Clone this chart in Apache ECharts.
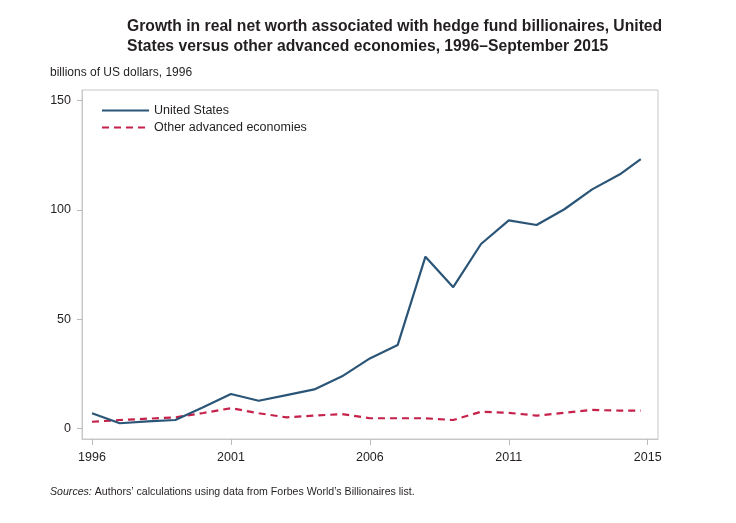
<!DOCTYPE html>
<html>
<head>
<meta charset="utf-8">
<script src="https://cdn.jsdelivr.net/npm/echarts@6/dist/echarts.min.js"></script>
<style>html,body{margin:0;padding:0;background:#fff}#c{width:736px;height:523px}</style>
</head>
<body>
<div id="c"></div>
<script>
const years = [1996,1997,1998,1999,2000,2001,2002,2003,2004,2005,2006,2007,2008,2009,2010,2011,2012,2013,2014,2015,2015.75];
const usValues = [6.9,2.3,3.2,3.8,9.6,15.7,12.6,15.2,17.8,23.8,32.0,38.1,78.6,64.6,84.4,95.2,93.1,100.3,109.4,116.3,123.3];
const otherValues = [3.0,3.8,4.4,5.0,7.0,9.2,6.9,5.0,5.8,6.5,4.6,4.6,4.6,3.8,7.6,7.1,5.8,7.1,8.4,8.1,8.1];
const xTickValues = [1996,2001,2006,2011,2016];
const xTickLabels = ['1996','2001','2006','2011','2015'];
const yTickValues = [0,50,100,150];
const seriesNames = ['United States','Other advanced economies'];
const titleText = 'Growth in real net worth associated with hedge fund billionaires, United\nStates versus other advanced economies, 1996–September 2015';
const yUnitText = 'billions of US dollars, 1996';
const sourceText = 'Authors’ calculations using data from Forbes World’s Billionaires list.';

const FONT = '"Liberation Sans", Arial, sans-serif';
const chart = echarts.init(document.getElementById('c'), null, {renderer:'canvas'});
chart.setOption({
  backgroundColor:'#fff',
  animation:false,
  title:[
    {text:titleText, left:122, top:12, textStyle:{fontFamily:FONT, fontWeight:'bold', fontSize:15.7, lineHeight:19.5, color:'#231f20'}},
    {text:yUnitText, left:45, top:62, textStyle:{fontFamily:FONT, fontWeight:'normal', fontSize:12, color:'#231f20'}},
    {text:'{i|Sources:} ' + sourceText, left:45, top:482, textStyle:{fontFamily:FONT, fontWeight:'normal', fontSize:10.6, color:'#231f20', rich:{i:{fontFamily:FONT, fontStyle:'italic', fontSize:10.6, color:'#231f20'}}}}
  ],
  legend:{
    left:96, top:99, orient:'vertical', itemWidth:47, itemHeight:14, itemGap:4,
    itemStyle:{opacity:0},
    textStyle:{fontFamily:FONT, fontSize:12.5, color:'#231f20'},
    data:seriesNames
  },
  grid:{left:82, right:78, top:90, bottom:84, show:true, borderColor:'#c8c8c8', borderWidth:1},
  xAxis:{
    type:'value', min:1995.64, max:2016.37,
    axisLine:{show:true, onZero:false, lineStyle:{color:'#c8c8c8'}},
    axisTick:{show:true, length:6, lineStyle:{color:'#bbb'}, customValues:xTickValues},
    axisLabel:{customValues:xTickValues, fontFamily:FONT, fontSize:12.5, color:'#231f20', margin:12,
      formatter:function(v){const i=xTickValues.indexOf(Math.round(v)); return i>=0?xTickLabels[i]:'';}},
    splitLine:{show:false}
  },
  yAxis:{
    type:'value', min:-4.9, max:154.9,
    axisLine:{show:true, onZero:false, lineStyle:{color:'#c8c8c8'}},
    axisTick:{show:true, length:5, lineStyle:{color:'#bbb'}, customValues:yTickValues},
    axisLabel:{customValues:yTickValues, fontFamily:FONT, fontSize:12.5, color:'#231f20', margin:11},
    splitLine:{show:false}
  },
  series:[
    {name:seriesNames[0], type:'line', symbol:'none', showSymbol:false,
     data:years.map((y,i)=>[y,usValues[i]]),
     lineStyle:{color:'#2b5577', width:2.2}, itemStyle:{color:'#2b5577'}, z:3},
    {name:seriesNames[1], type:'line', symbol:'none', showSymbol:false,
     data:years.map((y,i)=>[y,otherValues[i]]),
     lineStyle:{color:'#c6214b', width:2.2, type:[7,5]}, itemStyle:{color:'#c6214b'}, z:2}
  ]
});
</script>
</body>
</html>
